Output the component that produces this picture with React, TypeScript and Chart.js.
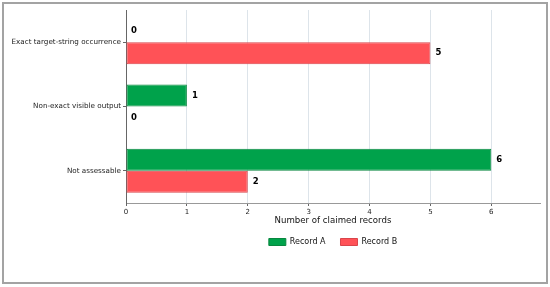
import React, { useEffect, useRef } from "react";
import { Chart, registerables } from "chart.js";

Chart.register(...registerables);

const categories = [
  "Exact target-string occurrence",
  "Non-exact visible output",
  "Not assessable",
];
const seriesNames = ["Record A", "Record B"];
const recordA = [0, 1, 6];
const recordB = [5, 0, 2];
const xTicks = [0, 1, 2, 3, 4, 5, 6];
const axisTitle = "Number of claimed records";

const FONT = "'DejaVu Sans', sans-serif";

const valueLabels = {
  id: "valueLabels",
  afterDatasetsDraw(chart: any) {
    const ctx = chart.ctx;
    ctx.save();
    ctx.font = `bold 8.5px ${FONT}`;
    ctx.fillStyle = "#000";
    ctx.textAlign = "left";
    ctx.textBaseline = "middle";
    chart.data.datasets.forEach((ds: any, di: number) => {
      const meta = chart.getDatasetMeta(di);
      meta.data.forEach((bar: any, i: number) => {
        ctx.fillText(String(ds.data[i]), bar.x + 5, bar.y);
      });
    });
    ctx.restore();
  },
};

export default function App() {
  const ref = useRef<HTMLCanvasElement>(null);
  useEffect(() => {
    document.body.style.margin = "0";
    const chart = new Chart(ref.current!, {
      type: "bar",
      data: {
        labels: categories,
        datasets: [
          {
            label: seriesNames[0],
            data: recordA,
            backgroundColor: "#00a24b",
            borderColor: "#08873f",
            borderWidth: 1,
            borderSkipped: false,
            categoryPercentage: 0.684,
            barPercentage: 1,
          },
          {
            label: seriesNames[1],
            data: recordB,
            backgroundColor: "#ff5257",
            borderColor: "#d9454b",
            borderWidth: 1,
            borderSkipped: false,
            categoryPercentage: 0.684,
            barPercentage: 1,
          },
        ],
      },
      options: {
        indexAxis: "y",
        animation: false,
        responsive: false,
        maintainAspectRatio: false,
        layout: { padding: { left: 0, right: 10, top: 10, bottom: 31 } },
        scales: {
          x: {
            type: "linear",
            min: 0,
            max: 6.8,
            afterBuildTicks: (scale: any) => {
              scale.ticks = xTicks.map((v) => ({ value: v }));
            },
            ticks: {
              font: { family: FONT, size: 7 },
              color: "#222",
              padding: 2,
            },
            grid: {
              color: "#dde4ea",
              lineWidth: 1,
              tickLength: 3,
              tickColor: "#666",
            },
            border: { display: true, color: "#999", width: 1 },
            title: {
              display: true,
              text: axisTitle,
              font: { family: FONT, size: 8.6, lineHeight: 1 },
              color: "#111",
              padding: { top: -2, bottom: -2 },
            },
          },
          y: {
            type: "category",
            offset: true,
            afterFit: (scale: any) => {
              scale.width = 126;
            },
            ticks: {
              font: { family: FONT, size: 7.2 },
              color: "#222",
              padding: 2,
            },
            grid: {
              display: true,
              drawOnChartArea: false,
              offset: false,
              tickLength: 3,
              tickColor: "#666",
            },
            border: { display: true, color: "#666", width: 1 },
          },
        },
        plugins: {
          legend: {
            position: "bottom",
            fullSize: false,
            labels: {
              font: { family: FONT, size: 8 },
              color: "#111",
              boxWidth: 17,
              boxHeight: 7,
              padding: 15,
            },
          },
          tooltip: { enabled: false },
        },
      },
      plugins: [valueLabels],
    } as any);
    return () => chart.destroy();
  }, []);
  return (
    <div
      style={{
        position: "fixed",
        left: 0,
        top: 0,
        width: 550,
        height: 287,
        background: "#fff",
      }}
    >
      <div
        style={{
          position: "absolute",
          left: 2,
          top: 2,
          width: 546,
          height: 282,
          boxSizing: "border-box",
          border: "2px solid #a3a3a3",
        }}
      />
      <canvas
        ref={ref}
        width={550}
        height={287}
        style={{ position: "absolute", left: 0, top: 0, width: 550, height: 287 }}
      />
    </div>
  );
}
